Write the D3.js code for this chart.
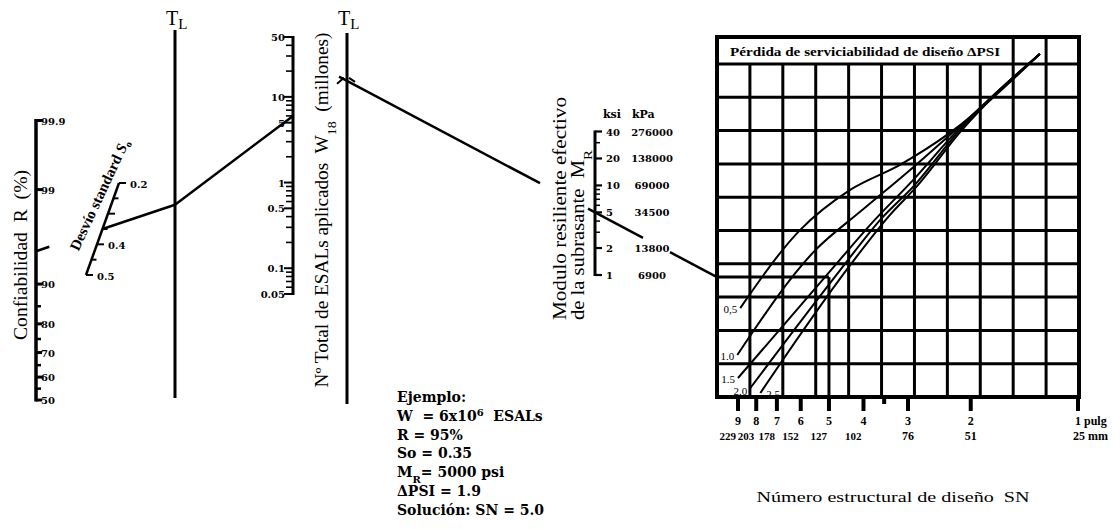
<!DOCTYPE html>
<html><head><meta charset="utf-8">
<script src="https://cdn.jsdelivr.net/npm/d3@7"></script>
<style>
body{margin:0;background:#fff}
svg{display:block}
text{font-family:"Liberation Serif","Times New Roman",serif;fill:#000;white-space:pre}
.dv{font-family:"DejaVu Serif",serif}
</style>
</head><body><svg id="c" width="1120" height="529"></svg>
<script>
// ---------------- DATA ----------------
const reliabilityTicks = [50, 60, 70, 80, 90, 99, 99.9];
const reliabilityMinor = [55, 65, 75, 85];
const soTicks = [0.2, 0.25, 0.3, 0.35, 0.4, 0.45, 0.5];
const soLabels = [0.2, 0.4, 0.5];
const w18Labels = [0.05, 0.1, 0.5, 1, 5, 10, 50];
const mrKsi = [1, 2, 5, 10, 20, 40];
const mrKpa = ["6900", "13800", "34500", "69000", "138000", "276000"];
const snLabels = [9, 8, 7, 6, 5, 4, 3, 2, 1];
const snMm = ["229", "203", "178", "152", "127", "102", "76", "51", "25"];
const snMinor = [3.5];
const psiLevels = ["0,5", "1.0", "1.5", "2.0", "2.5"];
// design curves: [SN, grid row]
const psi05 = [[8.87,2.67],[6.02,5.02],[4.36,6.22],[3.16,6.97],[2.29,7.93],[1.28,10.3]];
const psi10 = [[9.04,1.26],[5.46,4.41],[4.09,5.56],[2.96,6.82],[2.24,7.96],[1.28,10.3]];
const psi15 = [[9.00,0.57],[4.80,3.96],[3.83,5.17],[2.90,6.52],[2.20,7.96],[1.28,10.3]];
const psi20 = [[8.31,0.27],[4.65,3.81],[3.59,5.32],[2.87,6.37],[2.17,7.96],[1.28,10.3]];
const psi25 = [[7.79,0.12],[4.36,3.96],[3.37,5.47],[2.81,6.37],[2.14,7.96],[1.28,10.3]];
const psiCurves = [psi05, psi10, psi15, psi20, psi25];
// worked example
const exW = 6, exR = 95, exSo = 0.35, exMR = 5, exSN = 5.0, exRow = 3.6;
const exampleLines = [
  [{t:"Ejemplo:"}],
  [{t:"W  = 6x10"},{t:"6",sup:1},{t:"  ESALs"}],
  [{t:"R = 95%"}],
  [{t:"So = 0.35"}],
  [{t:"M"},{t:"R",sub:1},{t:"= 5000 psi"}],
  [{t:"\u0394PSI = 1.9"}],
  [{t:"Soluci\u00f3n: SN = 5.0"}]
];

// ---------------- HELPERS ----------------
function normInv(p){
  const a=[-3.969683028665376e+01,2.209460984245205e+02,-2.759285104469687e+02,1.383577518672690e+02,-3.066479806614716e+01,2.506628277459239e+00];
  const b=[-5.447609879822406e+01,1.615858368580409e+02,-1.556989798598866e+02,6.680131188771972e+01,-1.328068155288572e+01];
  const c=[-7.784894002430293e-03,-3.223964580411365e-01,-2.400758277161838e+00,-2.549732539343734e+00,4.374664141464968e+00,2.938163982698783e+00];
  const d=[7.784695709041462e-03,3.224671290700398e-01,2.445134137142996e+00,3.754408661907416e+00];
  const pl=0.02425; let q,r;
  if(p<pl){q=Math.sqrt(-2*Math.log(p));return (((((c[0]*q+c[1])*q+c[2])*q+c[3])*q+c[4])*q+c[5])/((((d[0]*q+d[1])*q+d[2])*q+d[3])*q+1);}
  if(p<=1-pl){q=p-0.5;r=q*q;return (((((a[0]*r+a[1])*r+a[2])*r+a[3])*r+a[4])*r+a[5])*q/(((((b[0]*r+b[1])*r+b[2])*r+b[3])*r+b[4])*r+1);}
  q=Math.sqrt(-2*Math.log(1-p));return -(((((c[0]*q+c[1])*q+c[2])*q+c[3])*q+c[4])*q+c[5])/((((d[0]*q+d[1])*q+d[2])*q+d[3])*q+1);
}
const svg = d3.select('#c');
svg.append('rect').attr('width',1120).attr('height',529).attr('fill','#fff');
function line(g,x1,y1,x2,y2,w){return g.append('line').attr('x1',x1).attr('y1',y1).attr('x2',x2).attr('y2',y2).attr('stroke','#000').attr('stroke-width',w||2);}
function txt(g,x,y,s,size,weight,anchor,cls){const t=g.append('text').attr('x',x).attr('y',y).attr('font-size',size).attr('font-weight',weight||'normal').attr('text-anchor',anchor||'start').text(s); if(cls) t.attr('class',cls); return t;}
function rich(t,parts,small){
  parts.forEach(p=>{
    const ts=t.append('tspan').text(p.t);
    if(p.sub){ts.attr('baseline-shift','sub').attr('font-size',small);}
    if(p.sup){ts.attr('baseline-shift','super').attr('font-size',small);}
  });
  return t;
}
const fmt = v => String(v);

// ---------------- RELIABILITY ----------------
const gR = svg.append('g');
const rX = 36;
const zScale = d3.scaleLinear().domain([0, normInv(0.999)]).range([400, 120.5]);
const rY = v => zScale(normInv(v/100));
line(gR, rX, rY(99.9)-1.5, rX, rY(50)+1.5, 3.5);
reliabilityTicks.forEach(v=>{
  line(gR, rX, rY(v), rX+6, rY(v), 3);
  txt(gR, rX+5, rY(v)+4, fmt(v), 10, 'bold', 'start', 'dv');
});
reliabilityMinor.forEach(v=> line(gR, rX, rY(v), rX+5, rY(v), 2.5));
svg.append('text').attr('transform',`translate(27,255) rotate(-90)`).attr('font-size',18).attr('text-anchor','middle')
  .attr('textLength',170).attr('lengthAdjust','spacingAndGlyphs').text('Confiabilidad  R  (%)');

// ---------------- So ----------------
const gS = svg.append('g');
const soA = [119,183], soB = [86,275];
const soT = d3.scaleLinear().domain([0.2,0.5]).range([0,1]);
const soPos = v => [soA[0]+(soB[0]-soA[0])*soT(v), soA[1]+(soB[1]-soA[1])*soT(v)];
line(gS, soA[0], soA[1], soB[0], soB[1], 2.5);
soTicks.forEach(v=>{
  const p = soPos(v);
  const major = Math.abs(v*10 - Math.round(v*10))<1e-6;
  line(gS, p[0], p[1], p[0]+(major?7:5), p[1], 2);
});
soLabels.forEach(v=>{ const p=soPos(v); txt(gS, p[0]+11, p[1]+5, fmt(v), 10, 'bold', 'start', 'dv'); });
const soTxt = svg.append('text').attr('transform','translate(104,197) rotate(-65)').attr('font-size',15).attr('font-weight','bold').attr('text-anchor','middle');
soTxt.append('tspan').text('Desv\u00edo standard ');
soTxt.append('tspan').attr('font-style','italic').text('S');
soTxt.append('tspan').attr('dy',3).attr('font-size',10).text('o');

// ---------------- TL lines ----------------
const tl1X = 175, tl2X = 347;
line(svg, tl1X, 30, tl1X, 398, 3);
line(svg, tl2X, 33, tl2X, 404, 3);
[[tl1X-9,25],[tl2X-9,25]].forEach(p=>{
  const t = svg.append('text').attr('x',p[0]).attr('y',p[1]).attr('font-size',20);
  t.append('tspan').text('T');
  t.append('tspan').attr('dy',4).attr('font-size',15).text('L');
});

// ---------------- W18 ----------------
const gW = svg.append('g');
const wX = 293;
const wScale = d3.scaleLog().domain([0.05,50]).range([294,37]);
line(gW, wX, wScale(50)-1, wX, wScale(0.05)+1, 3);
wScale.ticks().forEach(v=>{
  const lab = w18Labels.some(l=>Math.abs(l-v)/l<1e-6);
  line(gW, wX, wScale(v), wX-(lab?9:7), wScale(v), lab?2:1.6);
});
w18Labels.forEach(v=> txt(gW, wX-8, wScale(v)+4, fmt(v), 10, 'bold', 'end', 'dv'));
const wt = svg.append('text').attr('transform','translate(328,210) rotate(-90)').attr('font-size',18).attr('text-anchor','middle')
  .attr('textLength',355).attr('lengthAdjust','spacingAndGlyphs');
rich(wt,[{t:'N\u00ba Total de ESALs aplicados  W'},{t:'18',sub:1},{t:'  (millones)'}],13);

// ---------------- MR ----------------
const gM = svg.append('g');
const mX = 595;
const mScale = d3.scaleLog().domain([1,40]).range([275,131.5]);
line(gM, mX, mScale(40)-1, mX, mScale(1)+1, 3);
mScale.ticks().forEach(v=>{
  const lab = mrKsi.includes(v);
  line(gM, mX, mScale(v), mX+(lab?7:5), mScale(v), lab?2.2:1.5);
});
mrKsi.forEach((v,i)=>{
  txt(gM, mX+11, mScale(v)+4, fmt(v), 10, 'bold', 'start', 'dv');
  txt(gM, mX+57, mScale(v)+4, mrKpa[i], 10, 'bold', 'middle', 'dv');
});
txt(gM, mX+8, 118, 'ksi', 11, 'bold', 'start', 'dv');
txt(gM, mX+37, 118, 'kPa', 11, 'bold', 'start', 'dv');
svg.append('text').attr('transform','translate(566,320) rotate(-90)').attr('font-size',18)
  .attr('textLength',223).attr('lengthAdjust','spacingAndGlyphs').text('Modulo resiliente efectivo');
const mt2 = svg.append('text').attr('transform','translate(584,320) rotate(-90)').attr('font-size',18)
  .attr('textLength',170).attr('lengthAdjust','spacingAndGlyphs');
rich(mt2,[{t:'de la subrasante  M'},{t:'R',sub:1}],13);

// ---------------- GRID ----------------
const gG = svg.append('g');
const nCols = 11, nRows = 10;
const colX = d3.scaleLinear().domain([0,nCols]).range([717,1079]);
const rowY = d3.scaleLinear().domain([0,nRows]).range([397,64]);
const snScale = d3.scaleLog().domain([1,9]).range([1078,738]);
const gridTop = 37;
d3.range(1,nCols).forEach(i=>{
  const top = (i>=9) ? gridTop : rowY(nRows);
  line(gG, colX(i), top, colX(i), rowY(0), 3);
});
d3.range(1,nRows+1).forEach(j=> line(gG, colX(0), rowY(j), colX(nCols), rowY(j), 3));
gG.append('rect').attr('x',colX(0)).attr('y',gridTop).attr('width',colX(nCols)-colX(0)).attr('height',rowY(0)-gridTop)
  .attr('fill','none').attr('stroke','#000').attr('stroke-width',4);
gG.append('text').attr('x',(colX(0)+colX(9))/2).attr('y',56).attr('font-size',13.5).attr('font-weight','bold').attr('text-anchor','middle')
  .attr('textLength',270).attr('lengthAdjust','spacingAndGlyphs').text('P\u00e9rdida de serviciabilidad de dise\u00f1o \u0394PSI');

const cl = d3.line().x(d=>snScale(d[0])).y(d=>rowY(d[1])).curve(d3.curveMonotoneX);
psiCurves.forEach(c=>{
  gG.append('path').attr('d',cl(c)).attr('fill','none').attr('stroke','#000').attr('stroke-width',2);
});
psiCurves.forEach((c,i)=>{
  const x = snScale(c[0][0]), y = rowY(c[0][1]);
  const right = i===4;
  const lx = right ? x+6 : x-3;
  const ly = i===3 ? y+7 : (i===4 ? y+5 : y+5);
  txt(gG, lx, ly, psiLevels[i], 11, 'normal', right?'start':'end');
});
// example path inside grid
line(gG, colX(0), rowY(exRow), snScale(exSN), rowY(exRow), 3);
line(gG, snScale(exSN), rowY(exRow), snScale(exSN), rowY(0), 3);

// SN axis
snLabels.concat(snMinor).forEach(v=>{
  const minor = snMinor.includes(v);
  line(gG, snScale(v), 399, snScale(v), minor?404:411, 4);
});
snLabels.forEach((v,i)=>{
  const x = snScale(v);
  if(v===1){
    txt(gG, x-3, 425, '1 pulg', 12, 'bold');
    txt(gG, x-5, 440, snMm[i]+' mm', 12, 'bold');
  } else {
    txt(gG, x, 425, fmt(v), 12, 'bold', 'middle');
    if(snMm[i].length===3) txt(gG, x-2, 440, snMm[i], 11, 'bold', 'end');
    else txt(gG, x, 440, snMm[i], 12, 'bold', 'middle');
  }
});
svg.append('text').attr('x',893).attr('y',502).attr('font-size',15.5).attr('text-anchor','middle')
  .attr('textLength',273).attr('lengthAdjust','spacingAndGlyphs').text('N\u00famero estructural de dise\u00f1o  SN');

// ---------------- EXAMPLE LINES ----------------
const gE = svg.append('g');
const pR = [rX, rY(exR)], pS = soPos(exSo);
const slope1 = (pS[1]-pR[1])/(pS[0]-pR[0]);
const pT1 = [tl1X, pS[1] + slope1*(tl1X-pS[0])];
const dx = pS[0]-pR[0], dy = pS[1]-pR[1], dl = Math.hypot(dx,dy);
line(gE, pR[0], pR[1], pR[0]+dx/dl*14, pR[1]+dy/dl*14, 2.5);
line(gE, pS[0], pS[1], pT1[0], pT1[1], 2.5);
const pW = [wX, wScale(exW)];
line(gE, pT1[0], pT1[1], pW[0], pW[1], 2.5);
const pM = [mX, mScale(exMR)], pG = [colX(0), rowY(exRow)];
const slope2 = (pG[1]-pM[1])/(pG[0]-pM[0]);
const yAt = x => pM[1] + slope2*(x-pM[0]);
[[tl2X-8, mX-55],[mX-7, mX+48],[mX+75, pG[0]]].forEach(s=> line(gE, s[0], yAt(s[0]), s[1], yAt(s[1]), 2.5));
const pT2y = yAt(tl2X);
gE.append('path').attr('d',`M${tl2X-10},${pT2y+3} L${tl2X-3},${pT2y-3} M${tl2X+2},${pT2y-3} L${tl2X+8},${pT2y+1}`)
  .attr('fill','none').attr('stroke','#000').attr('stroke-width',2);

// ---------------- EXAMPLE TEXT ----------------
exampleLines.forEach((parts,i)=>{
  const t = svg.append('text').attr('class','dv').attr('x',397).attr('y',402+i*18.8).attr('font-size',14).attr('font-weight','bold');
  rich(t, parts, 10);
});
</script></body></html>
